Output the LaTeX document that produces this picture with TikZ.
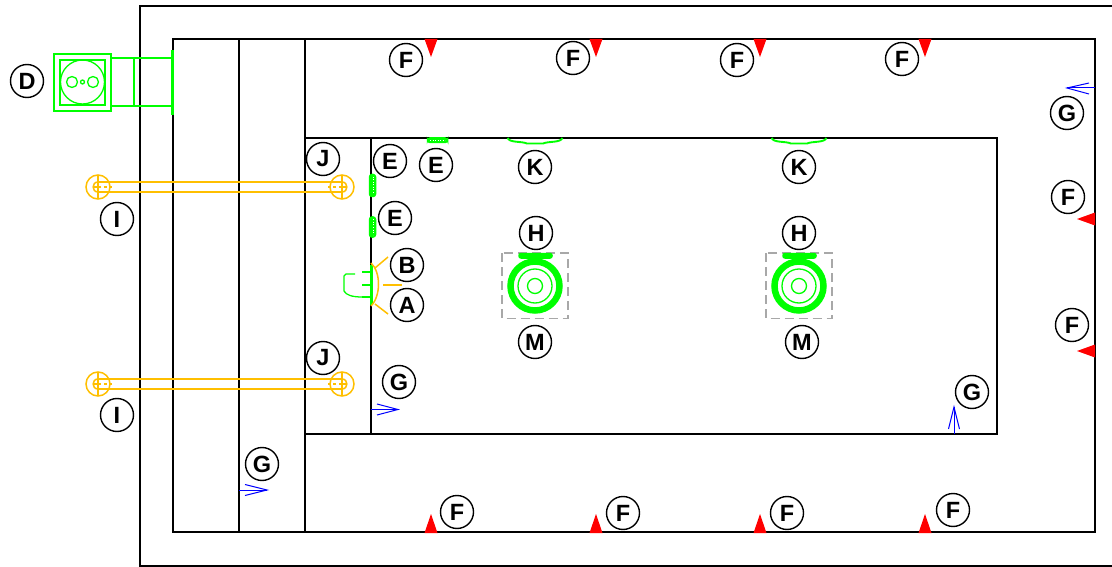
\documentclass[tikz,border=0pt]{standalone}
\usepackage{fontspec}
\setmainfont{Liberation Sans}
\definecolor{lampyellow}{HTML}{FFBF00}
\definecolor{fixgreen}{HTML}{00FF00}
\definecolor{dashgray}{HTML}{A8A8A8}
\tikzset{
  wall/.style={draw=black,line width=1.8},
  tag/.style={circle,draw=black,line width=1.4,fill=white,minimum size=33,inner sep=0,font=\fontsize{23.5}{23.5}\selectfont\bfseries},
  fixline/.style={draw=fixgreen,line width=1.3},
  fixthick/.style={draw=fixgreen,fill=fixgreen,line width=1.5},
  fixdots/.style={draw=white,line width=0.5,dotted},
  lampline/.style={draw=lampyellow,line width=1.5},
  flowline/.style={draw=blue,line width=1},
  redmark/.style={fill=red,draw=none},
  pics/floodlight/.style={code={
    \draw[lampline] (0,0) circle (12);
    \draw[lampline] (0,-5) .. controls (-6.5,-5) and (-6.5,5) .. (0,5);
    \draw[lampline] (0,-12) -- (0,12);
    \draw[lampline] (-4,0) -- (3,0);
    \draw[lampline] (6,0) -- (9,0);
    \draw[lampline] (11,0) -- (14,0);
  }},
  pics/mastlamp/.style={code={
    \draw[dashgray,line width=1.1,dash pattern=on 9 off 5] (-33,-33) rectangle (33,32.5);
    \draw[fixthick,rounded corners=2] (-16,-32.5) rectangle (17,-28);
    \draw[fixgreen,line width=6.5] (0,0) circle (24.5);
    \draw[fixline] (0,0) circle (17);
    \draw[fixline] (0,0) circle (7.5);
  }},
  pics/ceilspot/.style={code={
    \draw[fixgreen,line width=1.9] (-27.5,0) .. controls (-25,5) and (-14,3) .. (-8,5.5) -- (8,5.5) .. controls (14,3) and (25,5) .. (27.5,0);
  }},
}
\begin{document}
\begin{tikzpicture}[x=1pt,y=-1pt]
  \useasboundingbox (0,0) rectangle (1112,567);
  % walls
  \draw[wall] (1112,6) -- (140,6) -- (140,566) -- (1112,566);
  \draw[wall] (173,39) rectangle (1095,532);
  \draw[wall] (239,39) -- (239,532);
  \draw[wall] (305,39) -- (305,532);
  \draw[wall] (305,138) rectangle (997,434);
  \draw[wall] (371,138) -- (371,434);
  % unit outside
  \draw[fixgreen,line width=2.4] (54,54) rectangle (111,111);
  \draw[fixline] (60,60) rectangle (105,105);
  \draw[fixline] (82.5,82) circle (22);
  \draw[fixline] (72,82) circle (5.5);
  \draw[fixline] (93,82) circle (5.5);
  \draw[fixline] (82.5,82) circle (2);
  \draw[fixline] (111,58) rectangle (172,106);
  \draw[fixline] (134,58) -- (134,106);
  \draw[fixgreen,line width=2.6] (172.5,50) -- (172.5,115);
  % bars
  \draw[lampline] (98,182) -- (342,182);
  \draw[lampline] (98,192) -- (342,192);
  \draw[lampline] (98,379) -- (342,379);
  \draw[lampline] (98,389) -- (342,389);
  \draw (98,187) pic[xscale=1] {floodlight};
  \draw (342,187) pic[xscale=-1] {floodlight};
  \draw (98,384) pic[xscale=1] {floodlight};
  \draw (342,384) pic[xscale=-1] {floodlight};
  % wall fittings
  \draw[fixthick,rounded corners=2.5] (369.5,174.5) rectangle (375.5,196.5);
  \draw[fixdots] (373,177) -- (373,194);
  \draw[fixthick,rounded corners=2.5] (369.5,217) rectangle (375.5,237);
  \draw[fixdots] (373,219.5) -- (373,234.5);
  \draw[fixthick,rounded corners=2.5] (427.5,138) rectangle (447.5,142.5);
  \draw[fixdots] (430,140.5) -- (445,140.5);
  % door unit
  \draw[fixgreen,line width=3] (371,265) -- (371,305);
  \draw[fixline] (355,274) -- (346,274) -- (344,276) -- (344,291) .. controls (346,295) and (352,297) .. (362,297);
  \draw[fixgreen,line width=2.4] (362,272) -- (370,272);
  \draw[fixgreen,line width=2.4] (362,285) -- (370,285);
  \draw[fixgreen,line width=2.4] (362,297) -- (370,297);
  \draw[lampline] (371,263) .. controls (381,272) and (381,296) .. (371,306);
  \draw[lampline] (375,268) -- (388,257);
  \draw[lampline] (383,285) -- (402,285);
  \draw[lampline] (375,304) -- (388,314);
  % ceiling and mast lamps
  \draw (535,138) pic {ceilspot};
  \draw (799,138) pic {ceilspot};
  \draw (535,286) pic {mastlamp};
  \draw (799,286) pic {mastlamp};
  % red marks
  \fill[redmark] (424.5,39) -- (437.5,39) -- (431,57) -- cycle;
  \fill[redmark] (589.5,39) -- (602.5,39) -- (596,57) -- cycle;
  \fill[redmark] (753.5,39) -- (766.5,39) -- (760,57) -- cycle;
  \fill[redmark] (918.5,39) -- (931.5,39) -- (925,57) -- cycle;
  \fill[redmark] (424.5,533) -- (437.5,533) -- (431,514) -- cycle;
  \fill[redmark] (589.5,533) -- (602.5,533) -- (596,514) -- cycle;
  \fill[redmark] (753.5,533) -- (766.5,533) -- (760,514) -- cycle;
  \fill[redmark] (918.5,533) -- (931.5,533) -- (925,514) -- cycle;
  \fill[redmark] (1095,212.5) -- (1095,225.5) -- (1077,219) -- cycle;
  \fill[redmark] (1095,344.5) -- (1095,357.5) -- (1077,351) -- cycle;
  % blue flow marks
  \draw[flowline] (1095,88) -- (1067,88);
  \draw[flowline] (1089,83) -- (1067,88) -- (1089,94);
  \draw[flowline] (371,409.5) -- (398,409.5);
  \draw[flowline] (377,404) -- (398,409.5) -- (377,415);
  \draw[flowline] (239,490) -- (267,490);
  \draw[flowline] (245,484.5) -- (267,490) -- (245,495.5);
  \draw[flowline] (954,434) -- (954,407);
  \draw[flowline] (948.5,429) -- (954,407) -- (959.5,429);
  % tags
  \draw
    (27,81) node[tag] (d){D}
    (406,60) node[tag] (f1){F}
    (573,58) node[tag] (f2){F}
    (737,60) node[tag] (f3){F}
    (902,59) node[tag] (f4){F}
    (1068,197) node[tag] (f5){F}
    (1072,325) node[tag] (f6){F}
    (457,512) node[tag] (f7){F}
    (623,513) node[tag] (f8){F}
    (787,513) node[tag] (f9){F}
    (953,510) node[tag] (f10){F}
    (1067,113) node[tag] (g1){G}
    (972,392) node[tag] (g2){G}
    (399,382) node[tag] (g3){G}
    (262,464) node[tag] (g4){G}
    (390,161) node[tag] (e1){E}
    (436,165) node[tag] (e2){E}
    (395,218) node[tag] (e3){E}
    (323,159) node[tag] (j1){J}
    (323,358) node[tag] (j2){J}
    (117,219) node[tag] (i1){I}
    (117,415) node[tag] (i2){I}
    (407,265) node[tag] (b){B}
    (407,305) node[tag] (a){A}
    (535,167) node[tag] (k1){K}
    (799,167) node[tag] (k2){K}
    (536,233) node[tag] (h1){H}
    (799,233) node[tag] (h2){H}
    (535,342) node[tag] (m1){M}
    (802,342) node[tag] (m2){M};
\end{tikzpicture}
\end{document}
